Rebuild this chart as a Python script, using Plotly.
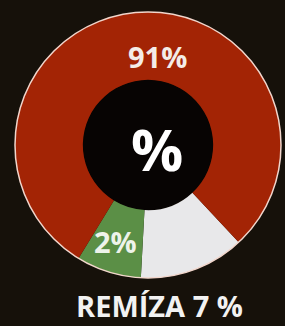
import plotly.graph_objects as go

# Data
categories = ["Remíza", "Výhra hostí", "Výhra domácích"]
reported_pct = [7, 2, 91]          # percentages written on the chart
slice_sizes = [12.8, 7.9, 79.3]    # slice sizes as drawn (estimated from angles)
colors = ["#e8e8ea", "#5b8f46", "#a32405"]

W, H = 285, 326
BG = "#16110a"
cx, cy, r = 148, 145, 133
dom_x = [(cx - r) / W, (cx + r) / W]
dom_y = [(H - cy - r) / H, (H - cy + r) / H]
hole = 0.49

fig = go.Figure(go.Pie(
    labels=categories, values=slice_sizes,
    marker=dict(colors=colors, line=dict(width=0)),
    hole=hole, sort=False, direction="clockwise", rotation=137,
    textinfo="none", hoverinfo="label",
    domain=dict(x=dom_x, y=dom_y), showlegend=False,
))

def px(x):
    return x / W

def py(y):
    return (H - y) / H

# dark centre and thin light outer rim
fig.add_shape(type="circle", xref="paper", yref="paper",
              x0=px(cx - r * hole), x1=px(cx + r * hole),
              y0=py(cy + r * hole), y1=py(cy - r * hole),
              fillcolor="#070403", line=dict(width=0), layer="below")
fig.add_shape(type="circle", xref="paper", yref="paper",
              x0=px(cx - r), x1=px(cx + r),
              y0=py(cy + r), y1=py(cy - r),
              line=dict(color="#f2d6cc", width=1.5), layer="above")

font = "Open Sans"
def label(x, y, text, size, color):
    fig.add_annotation(x=px(x), y=py(y), xref="paper", yref="paper",
                       xanchor="center", yanchor="middle",
                       text=text, showarrow=False,
                       font=dict(family=font, size=size, color=color))

label(158, 56, f"<b>{reported_pct[2]}%</b>", 29, "#f4ece8")
label(115, 242, f"<b>{reported_pct[1]}%</b>", 29, "#eef3ea")
label(157, 148, "<b>%</b>", 58, "#ffffff")
label(159, 305, f"<b>REMÍZA {reported_pct[0]} %</b>", 29, "#f2f2f2")

fig.update_layout(width=W, height=H, margin=dict(l=0, r=0, t=0, b=0),
                  paper_bgcolor=BG, plot_bgcolor=BG)

fig.write_html(
    "out.html",
    config={"displayModeBar": False},
    post_script=(
        "document.body.style.margin='0';"
        "document.body.style.overflow='hidden';"
        f"document.body.style.background='{BG}';"
    ),
)
